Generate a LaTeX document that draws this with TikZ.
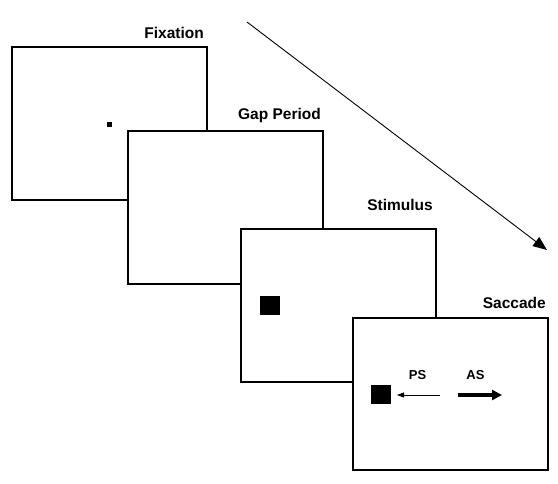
\documentclass[tikz,border=0pt]{standalone}
\usepackage{fontspec}
\setmainfont{Liberation Sans}
\usetikzlibrary{arrows.meta}
\begin{document}
\begin{tikzpicture}[x=1pt,y=-1pt,
  screen/.style={draw=black,line width=1.3pt,fill=white,minimum width=195pt,minimum height=153pt,inner sep=0pt,outer sep=0pt,anchor=north west},
  title/.style={font=\fontsize{15.5}{18}\selectfont\bfseries,inner sep=0pt,anchor=east},
  small/.style={font=\fontsize{13}{15}\selectfont\bfseries,inner sep=0pt},
  target/.style={fill=black,draw=none,minimum width=20pt,minimum height=19pt,inner sep=0pt}]
\useasboundingbox (0,0) rectangle (558,483);
% time arrow
\coordinate (t0) at (247,22);
\coordinate (t1) at (547,250);
\draw[line width=0.9pt,-{Triangle[length=14pt,width=11pt]}] (t0) -- (t1);
% screens
\node[screen] (fix) at (12,47) {};
\node[fill=black,minimum size=5pt,inner sep=0pt] (dot) at (109.5,124) {};
\node[title] (lfix) at (204,33) {Fixation};
\node[screen] (gap) at (128,131) {};
\node[title] (lgap) at (321,115) {Gap Period};
\node[screen] (stim) at (241,229) {};
\node[title] (lstim) at (433,205) {Stimulus};
\node[target] (sq1) at (270,305) {};
\node[screen,minimum height=152pt] (sac) at (353,318) {};
\node[title] (lsac) at (546,303) {Saccade};
\node[target] (sq2) at (381,394.5) {};
\node[small] (ps) at (417.5,375.5) {PS};
\node[small] (as) at (475.5,375.5) {AS};
\coordinate (ps0) at (440,395);
\coordinate (ps1) at (397,395);
\coordinate (as0) at (458,395);
\coordinate (as1) at (502,395);
\draw[line width=0.9pt,-{Triangle[length=7pt,width=5pt]}] (ps0) -- (ps1);
\draw[line width=3.5pt,-{Triangle[length=10pt,width=10pt]}] (as0) -- (as1);
\end{tikzpicture}
\end{document}
